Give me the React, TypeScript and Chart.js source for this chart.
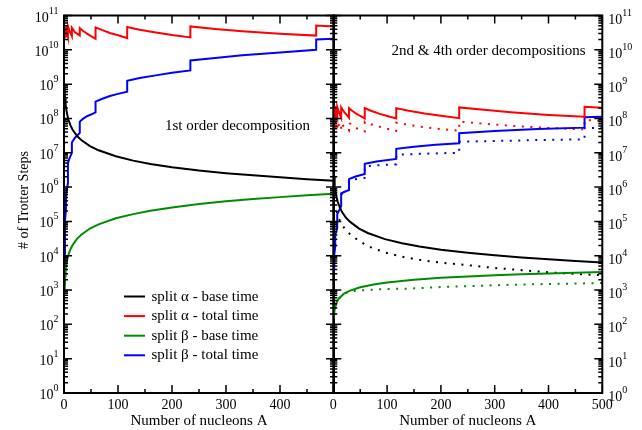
import React, { useEffect, useRef } from "react";
import { Chart, registerables } from "chart.js";

Chart.register(...registerables);

const SERIF = '"Liberation Serif", "Times New Roman", serif';
const RED = "#ff0000";
const BLUE = "#0000ff";
const GREEN = "#008c00";
const BLACK = "#000000";

// ---------- axes ----------
const xMajorTicks = [0, 100, 200, 300, 400, 500];
const xMinorTicks = [50, 150, 250, 350, 450];
const leftXLabels = [0, 100, 200, 300, 400];
const rightXLabels = [0, 100, 200, 300, 400, 500];
const yExponents = [0, 1, 2, 3, 4, 5, 6, 7, 8, 9, 10, 11];
const yMinorMultipliers = [2, 3, 4, 5, 6, 7, 8, 9];

const seriesLabels = [
  "split \u03b1 - base time",
  "split \u03b1 - total time",
  "split \u03b2 - base time",
  "split \u03b2 - total time",
];

// ---------- left panel: 1st order decomposition ----------
const baseA1 = [1, 1.5, 2, 3, 4, 6, 8, 12, 16, 24, 32, 48, 64, 96, 128, 160, 200, 250, 300, 350, 400, 450, 500];
const alphaBase1 = [8.5e8, 5.3e8, 3.9e8, 2.6e8, 1.9e8, 1.3e8, 9.5e7, 6.3e7, 4.7e7, 3.1e7, 2.35e7, 1.57e7, 1.18e7, 7.9e6, 5.9e6, 4.7e6, 3.8e6, 3.05e6, 2.55e6, 2.2e6, 1.92e6, 1.7e6, 1.53e6];
const betaBase1 = [1.1e3, 1.8e3, 2.5e3, 3.8e3, 5.1e3, 7.7e3, 1.03e4, 1.55e4, 2.05e4, 3.1e4, 4.1e4, 6.2e4, 8.2e4, 1.23e5, 1.63e5, 2.05e5, 2.55e5, 3.2e5, 3.85e5, 4.5e5, 5.1e5, 5.8e5, 6.4e5];

const alphaTotA1 = [1, 1.8, 1.8, 2.7, 3.6, 3.6, 5, 7.3, 7.3, 10, 14.6, 14.6, 20, 29.2, 29.2, 35, 42, 50, 58.4, 58.4, 70, 85, 100, 117, 117, 140, 170, 200, 234, 234, 280, 330, 400, 467, 467, 500];
const alphaTot1 = [3.2e10, 2.2e10, 4.6e10, 3.2e10, 2.3e10, 4.8e10, 3.5e10, 2.4e10, 4.9e10, 3.6e10, 2.5e10, 4.4e10, 3.3e10, 2.6e10, 4.3e10, 3.6e10, 3.0e10, 2.5e10, 2.1e10, 4.5e10, 3.8e10, 3.1e10, 2.65e10, 2.2e10, 4.6e10, 3.85e10, 3.2e10, 2.7e10, 2.3e10, 4.8e10, 4.05e10, 3.5e10, 2.95e10, 2.6e10, 5.1e10, 4.8e10];

const betaTotA1 = [1, 1.8, 1.8, 3.6, 3.6, 7.3, 7.3, 10, 14.6, 14.6, 20, 29.2, 29.2, 35, 42, 50, 58.4, 58.4, 70, 85, 100, 117, 117, 140, 170, 200, 234, 234, 280, 330, 400, 467, 467, 500];
const betaTot1 = [1.5e3, 2.5e4, 1e5, 2.2e5, 6e5, 1.3e6, 5e6, 6.8e6, 1e7, 2e7, 2.7e7, 3.8e7, 8.1e7, 9.7e7, 1.15e8, 1.3e8, 1.5e8, 3.1e8, 3.7e8, 4.5e8, 5.2e8, 6e8, 1.26e9, 1.5e9, 1.8e9, 2.15e9, 2.5e9, 4.9e9, 5.8e9, 6.9e9, 8.4e9, 1.0e10, 2.0e10, 2.1e10];

// ---------- right panel: 2nd (solid) & 4th (dotted) order ----------
const alphaBaseA2 = [1, 1.5, 2, 3, 4, 6, 8, 12, 16, 24, 32, 48, 64, 96, 128, 160, 200, 250, 300, 350, 400, 450, 500];
const alphaBase2 = [2.9e6, 2.0e6, 1.5e6, 1.0e6, 7.6e5, 5.1e5, 3.8e5, 2.6e5, 1.9e5, 1.25e5, 9.5e4, 6.2e4, 4.6e4, 3.05e4, 2.3e4, 1.85e4, 1.5e4, 1.22e4, 1.03e4, 8.9e3, 7.9e3, 7.0e3, 6.4e3];
const alphaBaseA4 = [6, 8, 12, 16, 24, 32, 48, 64, 96, 128, 160, 200, 250, 300, 350, 400, 450, 500];
const alphaBase4 = [2.0e5, 1.55e5, 1.05e5, 8e4, 5.4e4, 4.1e4, 2.7e4, 1.9e4, 1.25e4, 9.3e3, 7.6e3, 6.3e3, 5.3e3, 4.4e3, 3.8e3, 3.3e3, 2.95e3, 2.7e3];

const betaBaseA2 = [1, 2, 4, 6, 10, 20, 30, 50, 75, 100, 150, 200, 250, 300, 350, 400, 450, 500];
const betaBase2 = [1.5e2, 2.4e2, 3.5e2, 4.3e2, 5.6e2, 7.9e2, 9.5e2, 1.2e3, 1.45e3, 1.65e3, 2.0e3, 2.3e3, 2.5e3, 2.7e3, 2.9e3, 3.05e3, 3.2e3, 3.35e3];
const betaBaseA4 = [4, 8, 16, 24, 34, 50, 75, 100, 140, 200, 250, 300, 350, 400, 450, 500];
const betaBase4 = [3.4e2, 5e2, 7e2, 8.3e2, 9.3e2, 9.8e2, 1.03e3, 1.07e3, 1.1e3, 1.22e3, 1.3e3, 1.38e3, 1.45e3, 1.5e3, 1.55e3, 1.6e3];

const alphaTotA2 = [1, 1.8, 1.8, 2.7, 3.6, 3.6, 5, 7.3, 7.3, 10, 14.6, 14.6, 20, 29.2, 29.2, 35, 42, 50, 58.4, 58.4, 70, 85, 100, 117, 117, 140, 170, 200, 234, 234, 280, 330, 400, 467, 467, 500];
const alphaTot2 = [1.6e8, 1.05e8, 2.3e8, 1.5e8, 1.1e8, 2.3e8, 1.6e8, 1.1e8, 2.2e8, 1.6e8, 1.05e8, 2.1e8, 1.55e8, 1.05e8, 2.0e8, 1.68e8, 1.4e8, 1.18e8, 1.0e8, 2.0e8, 1.68e8, 1.38e8, 1.18e8, 1.0e8, 2.0e8, 1.68e8, 1.4e8, 1.2e8, 1.02e8, 2.1e8, 1.78e8, 1.52e8, 1.27e8, 1.12e8, 2.2e8, 2.05e8];
const alphaTotA4 = [1.8, 3.6, 3.6, 7.3, 7.3, 14.6, 14.6, 20, 29.2, 29.2, 35, 42, 50, 58.4, 58.4, 70, 85, 100, 117, 117, 140, 170, 200, 234, 234, 280, 330, 400, 467, 467, 500];
const alphaTot4 = [8e7, 4.8e7, 8.5e7, 5e7, 8e7, 4.5e7, 7.5e7, 5.6e7, 4.4e7, 7.5e7, 6.3e7, 5.3e7, 4.6e7, 4.2e7, 8e7, 6.8e7, 5.8e7, 5e7, 4.3e7, 7.5e7, 6.5e7, 5.5e7, 4.9e7, 4.4e7, 8.1e7, 7.0e7, 6.1e7, 5.3e7, 4.8e7, 9e7, 8.5e7];

const betaTotA2 = [1, 1.8, 1.8, 3.6, 3.6, 7.3, 7.3, 14.6, 14.6, 20, 29.2, 29.2, 40, 58.4, 58.4, 80, 117, 117, 150, 190, 234, 234, 300, 380, 467, 467, 500];
const betaTot2 = [3e3, 5e3, 1.1e4, 1.8e4, 4e4, 6.5e4, 1.6e5, 2.8e5, 6.6e5, 7.2e5, 8.2e5, 1.7e6, 2.0e6, 2.4e6, 4.8e6, 5.6e6, 6.6e6, 1.3e7, 1.5e7, 1.7e7, 1.9e7, 3.7e7, 4.3e7, 4.9e7, 5.4e7, 1.08e8, 1.12e8];
const betaTotA4 = [14.6, 29.2, 29.2, 40, 58.4, 58.4, 80, 117, 117, 160, 234, 234, 300, 380, 467, 467, 500];
const betaTot4 = [6.3e5, 7.6e5, 1.6e6, 1.7e6, 1.85e6, 4e6, 4.3e6, 4.6e6, 8.7e6, 9.3e6, 1.0e7, 2.1e7, 2.2e7, 2.35e7, 2.45e7, 5.2e7, 5.4e7];

const pts = (xs: number[], ys: number[]) => xs.map((x, i) => ({ x, y: ys[i] }));

function line(label: string, xs: number[], ys: number[], color: string, dotted = false) {
  return {
    label,
    data: pts(xs, ys),
    borderColor: color,
    backgroundColor: color,
    borderWidth: 2,
    pointRadius: 0,
    pointHoverRadius: 0,
    fill: false,
    tension: 0,
    borderDash: dotted ? [2, 6.5] : [],
    borderCapStyle: "butt",
  };
}

type PanelCfg = {
  side: "left" | "right";
  xLabels: number[];
  note: { text: string; x: number; y: number };
  legend: boolean;
  yTitle: boolean;
};

function panelPlugin(cfg: PanelCfg) {
  return {
    id: "panelAxes",
    afterDraw(chart: any) {
      const { ctx, chartArea, scales } = chart;
      const { left, right, top, bottom } = chartArea;
      const xs = scales.x;
      const ys = scales.y;
      ctx.save();
      ctx.strokeStyle = BLACK;
      ctx.fillStyle = BLACK;
      ctx.setLineDash([]);

      // inward ticks
      ctx.lineWidth = 1.5;
      ctx.beginPath();
      xMajorTicks.forEach((v) => {
        const px = xs.getPixelForValue(v);
        ctx.moveTo(px, bottom);
        ctx.lineTo(px, bottom - 8);
        ctx.moveTo(px, top);
        ctx.lineTo(px, top + 8);
      });
      xMinorTicks.forEach((v) => {
        const px = xs.getPixelForValue(v);
        ctx.moveTo(px, bottom);
        ctx.lineTo(px, bottom - 4);
        ctx.moveTo(px, top);
        ctx.lineTo(px, top + 4);
      });
      yExponents.forEach((e) => {
        const py = ys.getPixelForValue(Math.pow(10, e));
        ctx.moveTo(left, py);
        ctx.lineTo(left + 8, py);
        ctx.moveTo(right, py);
        ctx.lineTo(right - 8, py);
      });
      yExponents.slice(0, -1).forEach((e) => {
        yMinorMultipliers.forEach((k) => {
          const py = ys.getPixelForValue(k * Math.pow(10, e));
          ctx.moveTo(left, py);
          ctx.lineTo(left + 4, py);
          ctx.moveTo(right, py);
          ctx.lineTo(right - 4, py);
        });
      });
      ctx.stroke();

      // frame
      ctx.lineWidth = 2;
      ctx.strokeRect(left, top, right - left, bottom - top);

      // y labels 10^n
      ctx.textAlign = "left";
      ctx.textBaseline = "alphabetic";
      yExponents.forEach((e) => {
        const py = ys.getPixelForValue(Math.pow(10, e));
        ctx.font = `14px ${SERIF}`;
        const wb = ctx.measureText("10").width;
        ctx.font = `10px ${SERIF}`;
        const we = ctx.measureText(String(e)).width;
        const isLeft = cfg.side === "left";
        const x0 = isLeft ? left - 5.5 - wb - we : right + 6;
        ctx.font = `14px ${SERIF}`;
        ctx.fillText("10", x0, py + (isLeft ? 6 : 8));
        ctx.font = `10px ${SERIF}`;
        ctx.fillText(String(e), x0 + wb, py + (isLeft ? -2 : 0));
      });

      // x labels
      ctx.font = `14px ${SERIF}`;
      ctx.textAlign = "center";
      cfg.xLabels.forEach((v) => {
        ctx.fillText(String(v), xs.getPixelForValue(v), bottom + 15.5);
      });

      // x title
      ctx.font = `15px ${SERIF}`;
      ctx.fillText("Number of nucleons A", (left + right) / 2, 425);

      // annotation
      ctx.textAlign = "left";
      ctx.fillText(cfg.note.text, cfg.note.x, cfg.note.y);

      // y title
      if (cfg.yTitle) {
        ctx.save();
        ctx.font = `14px ${SERIF}`;
        ctx.translate(27.5, 200);
        ctx.rotate(-Math.PI / 2);
        ctx.textAlign = "center";
        ctx.fillText("# of Trotter Steps", 0, 0);
        ctx.restore();
      }

      // legend
      if (cfg.legend) {
        ctx.font = `15px ${SERIF}`;
        ctx.textAlign = "left";
        chart.data.datasets.slice(0, 4).forEach((ds: any, i: number) => {
          const base = 300.5 + i * 19.6;
          ctx.strokeStyle = ds.borderColor;
          ctx.lineWidth = 2;
          ctx.beginPath();
          ctx.moveTo(124, base - 4);
          ctx.lineTo(145, base - 4);
          ctx.stroke();
          ctx.fillStyle = BLACK;
          ctx.fillText(ds.label, 151.5, base);
        });
      }
      ctx.restore();
    },
  };
}

function baseOptions(padLeft: number, padRight: number) {
  return {
    responsive: false,
    animation: false as const,
    devicePixelRatio: 1,
    events: [] as any[],
    layout: { padding: { left: padLeft, right: padRight, top: 15.5, bottom: 37 } },
    plugins: { legend: { display: false }, tooltip: { enabled: false } },
    scales: {
      x: { type: "linear" as const, min: 0, max: 500, display: false },
      y: { type: "logarithmic" as const, min: 1, max: 1e11, display: false },
    },
  };
}

export default function App() {
  const leftRef = useRef<HTMLCanvasElement>(null);
  const rightRef = useRef<HTMLCanvasElement>(null);

  useEffect(() => {
    document.body.style.margin = "0";
    const left = new Chart(leftRef.current as HTMLCanvasElement, {
      type: "line",
      data: {
        datasets: [
          line(seriesLabels[0], baseA1, alphaBase1, BLACK),
          line(seriesLabels[1], alphaTotA1, alphaTot1, RED),
          line(seriesLabels[2], baseA1, betaBase1, GREEN),
          line(seriesLabels[3], betaTotA1, betaTot1, BLUE),
        ] as any,
      },
      options: baseOptions(64, 308) as any,
      plugins: [
        panelPlugin({
          side: "left",
          xLabels: leftXLabels,
          note: { text: "1st order decomposition", x: 165, y: 129.5 },
          legend: true,
          yTitle: true,
        }),
      ],
    });
    const right = new Chart(rightRef.current as HTMLCanvasElement, {
      type: "line",
      data: {
        datasets: [
          line(seriesLabels[0] + " (2nd)", alphaBaseA2, alphaBase2, BLACK),
          line(seriesLabels[1] + " (2nd)", alphaTotA2, alphaTot2, RED),
          line(seriesLabels[2] + " (2nd)", betaBaseA2, betaBase2, GREEN),
          line(seriesLabels[3] + " (2nd)", betaTotA2, betaTot2, BLUE),
          line(seriesLabels[0] + " (4th)", alphaBaseA4, alphaBase4, BLACK, true),
          line(seriesLabels[1] + " (4th)", alphaTotA4, alphaTot4, RED, true),
          line(seriesLabels[2] + " (4th)", betaBaseA4, betaBase4, GREEN, true),
          line(seriesLabels[3] + " (4th)", betaTotA4, betaTot4, BLUE, true),
        ] as any,
      },
      options: baseOptions(333.3, 39.7) as any,
      plugins: [
        panelPlugin({
          side: "right",
          xLabels: rightXLabels,
          note: { text: "2nd & 4th order decompositions", x: 391.5, y: 55 },
          legend: false,
          yTitle: false,
        }),
      ],
    });
    return () => {
      left.destroy();
      right.destroy();
    };
  }, []);

  const canvasStyle: React.CSSProperties = { position: "absolute", left: 0, top: 0 };
  return (
    <div style={{ position: "fixed", left: 0, top: 0, width: 642, height: 430, background: "#ffffff" }}>
      <canvas ref={leftRef} width={642} height={430} style={canvasStyle} />
      <canvas ref={rightRef} width={642} height={430} style={canvasStyle} />
    </div>
  );
}
